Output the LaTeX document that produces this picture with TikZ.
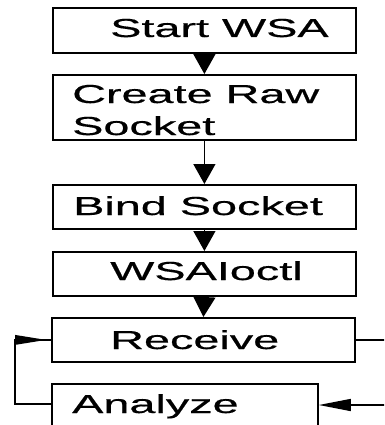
\documentclass[tikz,border=0pt]{standalone}
\usepackage{fontspec}
\setmainfont{Liberation Sans}
\newfontfamily\lblfont[FakeBold=0.4]{Liberation Sans}
\usetikzlibrary{arrows.meta,calc}
\begin{document}
\begin{tikzpicture}[x=1pt,y=-1pt,
  box/.style={draw, line width=1.8pt, inner sep=0pt, anchor=north west, minimum width=303pt},
  lbl/.style={anchor=base west, inner sep=0pt, font=\lblfont\fontsize{26}{31}\selectfont},
  conn/.style={line width=1.4pt},
  flow/.style={conn, -{Triangle[length=20pt,width=22pt]}}]
\useasboundingbox (0,0) rectangle (384,425);
\clip (0,0) rectangle (384,425);
% boxes
\node[box, minimum height=45pt] (start)  at (52,7)   {};
\node[box, minimum height=65pt] (create) at (52,74)  {};
\node[box, minimum height=44pt] (bind)   at (52,184) {};
\node[box, minimum height=44pt] (wsa)    at (52,251) {};
\node[box, minimum height=44pt] (recv)   at (51,317) {};
\node[box, minimum height=60pt, minimum width=266pt] (ana) at (51,383) {};
% labels
\node[lbl] (tstart)  at (110,37)  {\scalebox{1.8}[1]{Start WSA}};
\node[lbl] (tcreate) at (72,103)  {\scalebox{1.8}[1]{Create Raw}};
\node[lbl] (tsock)   at (72,135)  {\scalebox{1.8}[1]{Socket}};
\node[lbl] (tbind)   at (73,215)  {\scalebox{1.8}[1]{Bind Socket}};
\node[lbl] (twsa)    at (110,280) {\scalebox{1.8}[1]{WSAIoctl}};
\node[lbl] (trecv)   at (110,349) {\scalebox{1.8}[1]{Receive}};
\node[lbl] (tana)    at (72,413)  {\scalebox{1.8}[1]{Analyze}};
% vertical flow
\draw[flow] (start.south) -- (create.north);
\draw[flow] (create.south) -- (bind.north);
\draw[flow] (bind.south) -- (wsa.north);
\draw[flow] (wsa.south) -- (recv.north);
% right loop: Receive -> Analyze
\coordinate (ain) at ($(ana.north east)+(0,22)$);
\coordinate (rx) at (392,0);
\draw[conn, -{Triangle[length=32pt,width=12pt]}] (recv.east) -| (rx |- ain) -- (ain);
% left loop: Analyze -> Receive
\coordinate (aout) at ($(ana.north west)+(0,21)$);
\coordinate (lx) at (15,0);
\coordinate (lc) at (lx |- recv.west);
\draw[conn] (aout) -- (lx |- aout) -- (lc) -- (recv.west);
\fill ($(lc)+(0,-5)$) -- ($(lc)+(31,0)$) -- ($(lc)+(0,5)$) -- cycle;
\end{tikzpicture}
\end{document}
